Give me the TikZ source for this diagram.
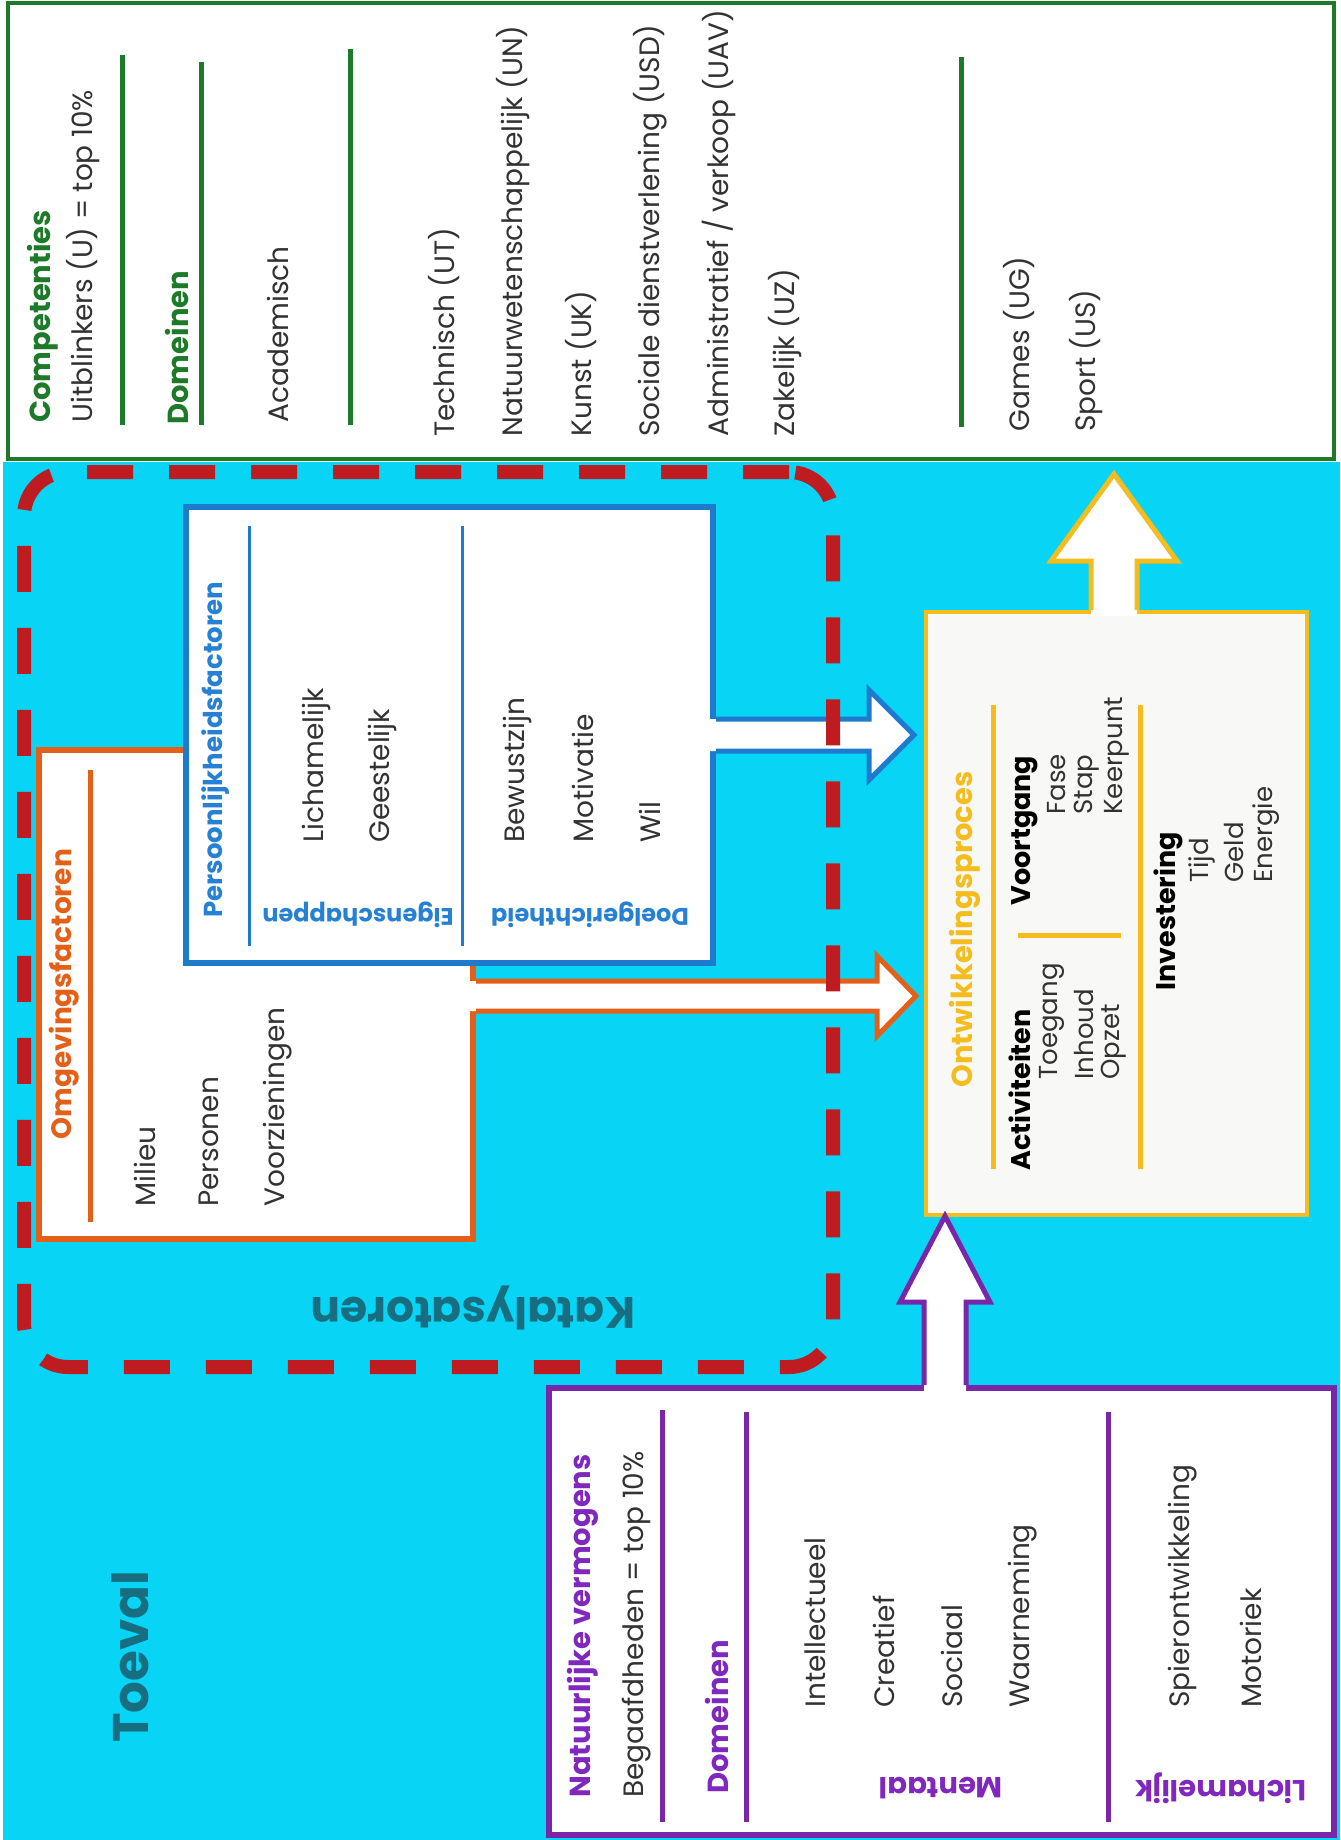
\documentclass[tikz,border=0pt]{standalone}
\usepackage{fontspec}
\setmainfont{Poppins}
\usepackage{tikz}
\usetikzlibrary{calc}

\definecolor{cyanbg}{RGB}{8,212,246}
\definecolor{greenc}{RGB}{28,122,40}
\definecolor{orangec}{RGB}{228,96,24}
\definecolor{bluec}{RGB}{30,122,204}
\definecolor{bluetext}{RGB}{38,128,212}
\definecolor{yellowc}{RGB}{244,188,28}
\definecolor{purplec}{RGB}{122,38,168}
\definecolor{purpletext}{RGB}{128,40,190}
\definecolor{redc}{RGB}{190,28,32}
\definecolor{tealc}{RGB}{22,110,128}
\definecolor{inkc}{RGB}{50,50,50}
\definecolor{procfill}{RGB}{248,248,246}

\tikzset{
  boxframe/.style={draw=#1, fill=white, line width=3pt, inner sep=0pt},
  sepline/.style={draw=#1, line width=2.5pt},
  itemtext/.style={rotate=90, anchor=west, inner sep=0pt, text=inkc, font=\fontsize{14}{16}\selectfont},
  hdtext/.style={rotate=90, anchor=west, inner sep=0pt, text=#1, font=\bfseries\fontsize{14.5}{17}\selectfont},
  smalltext/.style={rotate=90, anchor=west, inner sep=0pt, text=inkc, font=\fontsize{13}{15}\selectfont},
  smallhd/.style={rotate=90, anchor=west, inner sep=0pt, text=black, font=\bfseries\fontsize{13.5}{16}\selectfont},
  fliptext/.style={rotate=180, inner sep=0pt, text=#1, font=\bfseries\fontsize{12}{14}\selectfont},
  bigtext/.style={inner sep=0pt, text=tealc, font=\bfseries\fontsize{23.5}{28}\selectfont},
  blockline/.style={draw=#1, line width=2.5pt, line join=miter, miter limit=10},
  katbox/.style={draw=redc, line width=7pt, dash pattern=on 23pt off 18pt, rounded corners=22pt, inner sep=0pt}
}

% fat arrows: base, tip, half shaft, half head, head length, colour
\newcommand{\blockup}[6]{%
  \fill[white] ($(#1)+(-#3,6)$) -- ($(#2)+(-#3,#5)$) -- ($(#2)+(-#4,#5)$) -- (#2)
    -- ($(#2)+(#4,#5)$) -- ($(#2)+(#3,#5)$) -- ($(#1)+(#3,6)$) -- cycle;
  \draw[blockline=#6] ($(#1)+(-#3,0)$) -- ($(#2)+(-#3,#5)$) -- ($(#2)+(-#4,#5)$) -- (#2)
    -- ($(#2)+(#4,#5)$) -- ($(#2)+(#3,#5)$) -- ($(#1)+(#3,0)$);
}
\newcommand{\blockright}[6]{%
  \fill[white] ($(#1)+(-6,-#3)$) -- ($(#2)+(-#5,-#3)$) -- ($(#2)+(-#5,-#4)$) -- (#2)
    -- ($(#2)+(-#5,#4)$) -- ($(#2)+(-#5,#3)$) -- ($(#1)+(-6,#3)$) -- cycle;
  \draw[blockline=#6] ($(#1)+(0,-#3)$) -- ($(#2)+(-#5,-#3)$) -- ($(#2)+(-#5,-#4)$) -- (#2)
    -- ($(#2)+(-#5,#4)$) -- ($(#2)+(-#5,#3)$) -- ($(#1)+(0,#3)$);
}

\begin{document}
\begin{tikzpicture}[x=0.5pt,y=-0.5pt]
    \useasboundingbox (0,0) rectangle (1340,1840);
    \fill[white] (0,0) rectangle (1340,1840);
    \fill[cyanbg] (3,462) rectangle (1340,1840);

    % Competenties
    \node[boxframe=greenc, line width=2pt, minimum width=663pt, minimum height=228pt] (comp) at (671,231) {};
    \node[hdtext=greenc] (compT) at (43,423) {Competenties};
    \node[itemtext] (compS) at (83,423) {Uitblinkers (U) = top 10\%};
    \draw[sepline=greenc] (122,55) -- (122,425);
    \node[hdtext=greenc] (compD) at (177,425) {Domeinen};
    \draw[sepline=greenc] (201,62) -- (201,425);
    \node[itemtext] (uA) at (278,423) {Academisch};
    \draw[sepline=greenc] (350,49) -- (350,425);
    \node[itemtext] (uT) at (444,437) {Technisch (UT)};
    \node[itemtext] (uN) at (513,437) {Natuurwetenschappelijk (UN)};
    \node[itemtext] (uK) at (581,437) {Kunst (UK)};
    \node[itemtext] (uSD) at (650,437) {Sociale dienstverlening (USD)};
    \node[itemtext] (uAV) at (719,437) {Administratief / verkoop (UAV)};
    \node[itemtext] (uZ) at (785,437) {Zakelijk (UZ)};
    \draw[sepline=greenc] (961,57) -- (961,427);
    \node[itemtext] (uG) at (1019,432) {Games (UG)};
    \node[itemtext] (uS) at (1086,432) {Sport (US)};

    % Omgevingsfactoren
    \node[boxframe=orangec, minimum width=217pt, minimum height=244.5pt] (omg) at (256,994.5) {};
    \draw[sepline=orangec] (90,770) -- (90,1222);
    \node[hdtext=orangec, font=\bfseries\fontsize{14}{17}\selectfont] (omgT) at (64,1140) {Omgevingsfactoren};
    \node[itemtext] (oM) at (145,1207) {Milieu};
    \node[itemtext] (oP) at (209,1207) {Personen};
    \node[itemtext] (oV) at (278,1207) {Voorzieningen};

    % Persoonlijkheidsfactoren
    \node[boxframe=bluec, minimum width=263.5pt, minimum height=228pt] (pers) at (449.5,735) {};
    \node[hdtext=bluetext, font=\bfseries\fontsize{13}{16}\selectfont] (persT) at (216,918) {Persoonlijkheidsfactoren};
    \draw[sepline=bluec, line width=1.5pt] (249,526) -- (249,946);
    \node[fliptext=bluetext] (eig) at (358,915) {Eigenschappen};
    \node[itemtext] (pL) at (316,843) {Lichamelijk};
    \node[itemtext] (pG) at (382,843) {Geestelijk};
    \draw[sepline=bluec, line width=1.5pt] (462,526) -- (462,946);
    \node[fliptext=bluetext] (doel) at (590,915) {Doelgerichtheid};
    \node[itemtext] (pB) at (517,843) {Bewustzijn};
    \node[itemtext] (pM) at (583,843) {Motivatie};
    \node[itemtext] (pW) at (650,843) {Wil};

    % Ontwikkelingsproces
    \node[boxframe=yellowc, fill=procfill, line width=2pt, minimum width=190.5pt, minimum height=301.5pt] (proc) at (1116.5,913.5) {};
    \node[hdtext=yellowc] (procT) at (965,1088) {Ontwikkelingsproces};
    \draw[sepline=yellowc] (993,705) -- (993,1169);
    \node[smallhd] (act) at (1020,1171) {Activiteiten};
    \node[smalltext] (a1) at (1052,1080) {Toegang};
    \node[smalltext] (a2) at (1084,1080) {Inhoud};
    \node[smalltext] (a3) at (1114,1080) {Opzet};
    \draw[sepline=yellowc] (1018,935) -- (1121,935);
    \node[smallhd] (vg) at (1025,906) {Voortgang};
    \node[smalltext] (v1) at (1057,815) {Fase};
    \node[smalltext] (v2) at (1087,815) {Stap};
    \node[smalltext] (v3) at (1117,815) {Keerpunt};
    \draw[sepline=yellowc] (1140,705) -- (1140,1169);
    \node[smallhd] (inv) at (1168,991) {Investering};
    \node[smalltext] (i1) at (1202,883) {Tijd};
    \node[smalltext] (i2) at (1234,883) {Geld};
    \node[smalltext] (i3) at (1266,883) {Energie};

    % Natuurlijke vermogens
    \node[boxframe=purplec, minimum width=392.5pt, minimum height=223.5pt] (nat) at (941.5,1611.5) {};
    \node[hdtext=purpletext] (natT) at (583,1798) {Natuurlijke vermogens};
    \node[itemtext] (natS) at (637,1798) {Begaafdheden = top 10\%};
    \draw[sepline=purplec] (662,1410) -- (662,1822);
    \node[hdtext=purpletext] (natD) at (717,1794) {Domeinen};
    \draw[sepline=purplec] (746,1412) -- (746,1822);
    \node[itemtext] (m1) at (815,1708) {Intellectueel};
    \node[itemtext] (m2) at (884,1708) {Creatief};
    \node[itemtext] (m3) at (952,1708) {Sociaal};
    \node[itemtext] (m4) at (1023,1708) {Waarneming};
    \node[fliptext=purpletext, font=\bfseries\fontsize{14.5}{17}\selectfont] (ment) at (941,1788) {Mentaal};
    \draw[sepline=purplec] (1108,1412) -- (1108,1822);
    \node[itemtext] (l1) at (1183,1708) {Spierontwikkeling};
    \node[itemtext] (l2) at (1251,1708) {Motoriek};
    \node[fliptext=purpletext, font=\bfseries\fontsize{14.5}{17}\selectfont] (lich) at (1221,1788) {Lichamelijk};

    % arrows
    \coordinate (tipY) at (1114,474);
    \coordinate (baseY) at (tipY |- proc.north);
    \blockup{baseY}{tipY}{23}{63}{87}{yellowc}
    \coordinate (tipP) at (945,1216);
    \coordinate (baseP) at (tipP |- nat.north);
    \blockup{baseP}{tipP}{21}{45}{86}{purplec}
    \coordinate (tipB) at (914,735);
    \coordinate (baseB) at (tipB -| pers.east);
    \blockright{baseB}{tipB}{16}{45}{45}{bluec}
    \coordinate (tipO) at (916,996);
    \coordinate (baseO) at (tipO -| omg.east);
    \blockright{baseO}{tipO}{15}{40}{39}{orangec}

    % Katalysatoren
    \node[katbox, minimum width=404.5pt, minimum height=447.5pt] (kat) at (428.5,919.5) {};
    \node[bigtext, rotate=180, font=\bfseries\fontsize{22}{26}\selectfont] (katT) at (473,1308) {Katalysatoren};
    \node[bigtext, rotate=90, anchor=west, font=\bfseries\fontsize{25}{30}\selectfont] (toeval) at (130,1743) {Toeval};
\end{tikzpicture}
\end{document}
